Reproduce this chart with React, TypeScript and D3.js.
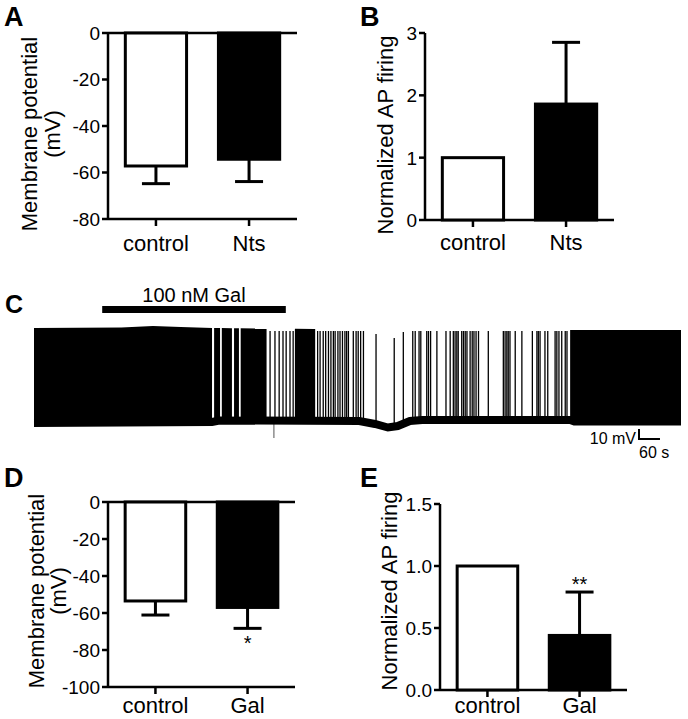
import * as d3 from "d3";

const FONT = "'Liberation Sans', Arial, Helvetica, sans-serif";

// A: membrane potential, control vs Nts (mV)
const groupsA = ["control", "Nts"];
const meanA = [-57.2, -54.3];
const semA = [7.6, 9.6];
const ticksA = [0, -20, -40, -60, -80];

// B: normalized AP firing, control vs Nts
const groupsB = ["control", "Nts"];
const meanB = [1.0, 1.86];
const semB = [0, 0.99];
const ticksB = [0, 1, 2, 3];

// D: membrane potential, control vs Gal (mV)
const groupsD = ["control", "Gal"];
const meanD = [-53.5, -57.0];
const semD = [7.6, 11.3];
const ticksD = [0, -20, -40, -60, -80, -100];
const starsD = ["", "*"];

// E: normalized AP firing, control vs Gal
const groupsE = ["control", "Gal"];
const meanE = [1.0, 0.44];
const semE = [0, 0.35];
const ticksE = [0, 0.5, 1.0, 1.5];
const starsE = ["", "**"];

// C: current clamp trace, time in s, potential in mV
const galWindow = [195, 720];
const restTrace: [number, number][] = [
  [0, -57], [509, -56], [530, -54.5], [930, -55], [975, -58], [1012, -61.5],
  [1040, -60], [1075, -55], [1110, -54], [1533, -54], [1545, -55.5], [1850, -55.5],
];
const topEdge: [number, number][] = [
  [0, 38], [250, 38.5], [340, 40], [420, 39], [520, 38], [800, 37], [1533, 36], [1850, 36],
];
// stretches where firing is too dense to resolve single spikes
const denseFiring: [number, number][] = [
  [0, 509], [515, 532], [537, 566], [572, 586], [591, 665], [746, 804], [1533, 1850],
];
const spikeTimes = [
  675, 689, 701, 712, 721, 732, 741, 752,
  811, 818, 827, 834, 842, 849, 856, 861, 869, 875, 882, 889, 894, 899,
  913, 921, 927, 934, 942, 978, 1030, 1056, 1083, 1090, 1101, 1106,
  1123, 1128, 1134, 1152, 1178, 1190, 1199, 1204, 1209, 1213, 1223, 1228,
  1233, 1238, 1247, 1253, 1258, 1264, 1271, 1299, 1342, 1347, 1352, 1356,
  1361, 1376, 1395, 1425, 1438, 1442, 1447, 1461, 1469, 1490, 1495, 1501,
  1509, 1519, 1524,
];
const spikePeak = 35;
const smallSpikes: [number, number][] = [[978, 32], [1030, 28], [1056, 34]];
const artifact: [number, number] = [686, -72];

const panels = [
  {
    letter: "A", groups: groupsA, mean: meanA, sem: semA, ticks: ticksA, stars: null,
    fmt: (v: number) => String(v), domain: [-80, 0],
    x0: 108, x1: 297, yTop: 33, yBot: 219, lx: 4, ly: 26,
    yLabel: ["Membrane potential", "(mV)"], yLabelX: [37, 60], yLabelY: 134, catY: 251,
  },
  {
    letter: "B", groups: groupsB, mean: meanB, sem: semB, ticks: ticksB, stars: null,
    fmt: (v: number) => String(v), domain: [0, 3],
    x0: 425, x1: 614, yTop: 33, yBot: 220, lx: 360, ly: 26,
    yLabel: ["Normalized AP firing"], yLabelX: [393], yLabelY: 135, catY: 250,
  },
  {
    letter: "D", groups: groupsD, mean: meanD, sem: semD, ticks: ticksD, stars: starsD,
    fmt: (v: number) => String(v), domain: [-100, 0],
    x0: 108, x1: 295, yTop: 502, yBot: 687, lx: 4, ly: 487,
    yLabel: ["Membrane potential", "(mV)"], yLabelX: [44, 66], yLabelY: 591, catY: 713,
  },
  {
    letter: "E", groups: groupsE, mean: meanE, sem: semE, ticks: ticksE, stars: starsE,
    fmt: (v: number) => v.toFixed(1), domain: [0, 1.5],
    x0: 440, x1: 627, yTop: 504, yBot: 690, lx: 360, ly: 487,
    yLabel: ["Normalized AP firing"], yLabelX: [397], yLabelY: 591, catY: 713,
  },
];

function BarPanel({ p }: { p: any }) {
  const y = d3.scaleLinear().domain(p.domain).range([p.yBot, p.yTop]);
  const x = d3
    .scaleBand()
    .domain(p.groups)
    .range([p.x0, p.x1])
    .paddingInner(0.31)
    .paddingOuter(0.17);
  const negative = p.domain[1] === 0;
  const axisY = negative ? p.yBot : y(0);
  const bw = x.bandwidth();

  return (
    <g>
      <text x={p.lx} y={p.ly} fontSize={27} fontWeight="bold" fontFamily={FONT}>
        {p.letter}
      </text>
      {/* y axis */}
      <line x1={p.x0} x2={p.x0} y1={p.yTop} y2={p.yBot} stroke="#000" strokeWidth={2.5} />
      {p.ticks.map((t: number) => (
        <g key={t}>
          <line x1={p.x0 - 6} x2={p.x0} y1={y(t)} y2={y(t)} stroke="#000" strokeWidth={2.5} />
          <text
            x={p.x0 - 8}
            y={y(t)}
            dy="0.36em"
            textAnchor="end"
            fontSize={19}
            fontFamily={FONT}
          >
            {p.fmt(t)}
          </text>
        </g>
      ))}
      {/* zero line on top when values are negative */}
      {negative && (
        <line x1={p.x0} x2={p.x1} y1={y(0)} y2={y(0)} stroke="#000" strokeWidth={2.5} />
      )}
      <line x1={p.x0} x2={p.x1} y1={axisY} y2={axisY} stroke="#000" strokeWidth={2.5} />
      {p.groups.map((g: string, i: number) => {
        const cx = x(g)! + bw / 2;
        const m = p.mean[i];
        const s = p.sem[i];
        const yEnd = m < 0 ? m - s : m + s;
        const filled = i === 1;
        return (
          <g key={g}>
            <line x1={cx} x2={cx} y1={axisY} y2={axisY + 7} stroke="#000" strokeWidth={2.5} />
            <text x={cx} y={p.catY} textAnchor="middle" fontSize={22} fontFamily={FONT}>
              {g}
            </text>
            {s > 0 && (
              <g>
                <line x1={cx} x2={cx} y1={y(m)} y2={y(yEnd)} stroke="#000" strokeWidth={3} />
                <line
                  x1={cx - 14}
                  x2={cx + 14}
                  y1={y(yEnd)}
                  y2={y(yEnd)}
                  stroke="#000"
                  strokeWidth={3}
                />
              </g>
            )}
            <rect
              x={x(g)! + 1.5}
              width={bw - 3}
              y={Math.min(y(0), y(m))}
              height={Math.abs(y(m) - y(0))}
              fill={filled ? "#000" : "#fff"}
              stroke="#000"
              strokeWidth={3}
            />
            {p.stars && p.stars[i] && (
              <text
                x={cx}
                y={m < 0 ? y(yEnd) + 22 : y(yEnd) - 1}
                textAnchor="middle"
                fontSize={20}
                fontFamily={FONT}
              >
                {p.stars[i]}
              </text>
            )}
          </g>
        );
      })}
      {p.yLabel.map((t: string, i: number) => (
        <text
          key={t}
          transform={`translate(${p.yLabelX[i]},${p.yLabelY}) rotate(-90)`}
          textAnchor="middle"
          fontSize={22}
          fontFamily={FONT}
        >
          {t}
        </text>
      ))}
    </g>
  );
}

function TracePanel() {
  const tx = d3.scaleLinear().domain([0, 1850]).range([34, 681]);
  const ty = d3.scaleLinear().domain([-70, 40]).range([436, 326]);
  const rest = d3
    .scaleLinear()
    .domain(restTrace.map((d) => d[0]))
    .range(restTrace.map((d) => d[1]));
  const top = d3
    .scaleLinear()
    .domain(topEdge.map((d) => d[0]))
    .range(topEdge.map((d) => d[1]));

  const restLine = d3
    .line<[number, number]>()
    .x((d) => tx(d[0]))
    .y((d) => ty(d[1]));

  const blockArea = d3
    .area<number>()
    .x((t) => tx(t))
    .y0((t) => ty(rest(t)))
    .y1((t) => ty(top(t)));

  const blockPts = (b: [number, number]) => [
    b[0],
    ...topEdge.map((d) => d[0]).filter((t) => t > b[0] && t < b[1]),
    ...restTrace.map((d) => d[0]).filter((t) => t > b[0] && t < b[1]),
    b[1],
  ].sort((a, b2) => a - b2);

  const peakOf = (t: number) => {
    const s = smallSpikes.find((d) => d[0] === t);
    return s ? s[1] : spikePeak;
  };

  // scale bar corner
  const sbX = 639;
  const sbY = 439;

  return (
    <g>
      <text x={5} y={313} fontSize={25} fontWeight="bold" fontFamily={FONT}>
        C
      </text>
      <text
        x={(tx(galWindow[0]) + tx(galWindow[1])) / 2}
        y={302}
        textAnchor="middle"
        fontSize={20}
        fontFamily={FONT}
      >
        100 nM Gal
      </text>
      <rect
        x={tx(galWindow[0])}
        width={tx(galWindow[1]) - tx(galWindow[0])}
        y={306}
        height={7}
        fill="#000"
      />
      {denseFiring.map((b) => (
        <path key={b[0]} d={blockArea(blockPts(b)) || ""} fill="#000" />
      ))}
      {spikeTimes.map((t) => (
        <line
          key={t}
          x1={tx(t)}
          x2={tx(t)}
          y1={ty(rest(t))}
          y2={ty(peakOf(t))}
          stroke="#000"
          strokeWidth={1.3}
        />
      ))}
      <line
        x1={tx(artifact[0])}
        x2={tx(artifact[0])}
        y1={ty(rest(artifact[0]))}
        y2={ty(artifact[1])}
        stroke="#555"
        strokeWidth={1}
      />
      <path d={restLine(restTrace) || ""} fill="none" stroke="#000" strokeWidth={8} />
      {/* scale bar: 10 mV, 60 s */}
      <path
        d={`M${sbX},${sbY - (ty(0) - ty(10))}V${sbY}H${sbX + tx(60) - tx(0)}`}
        fill="none"
        stroke="#000"
        strokeWidth={2}
      />
      <text x={sbX - 3} y={444} textAnchor="end" fontSize={16} fontFamily={FONT}>
        10 mV
      </text>
      <text x={sbX} y={458} fontSize={16} fontFamily={FONT}>
        60 s
      </text>
    </g>
  );
}

export default function App() {
  return (
    <svg
      width={688}
      height={719}
      style={{ position: "absolute", left: 0, top: 0, background: "#fff" }}
    >
      {panels.map((p) => (
        <BarPanel key={p.letter} p={p} />
      ))}
      <TracePanel />
    </svg>
  );
}
